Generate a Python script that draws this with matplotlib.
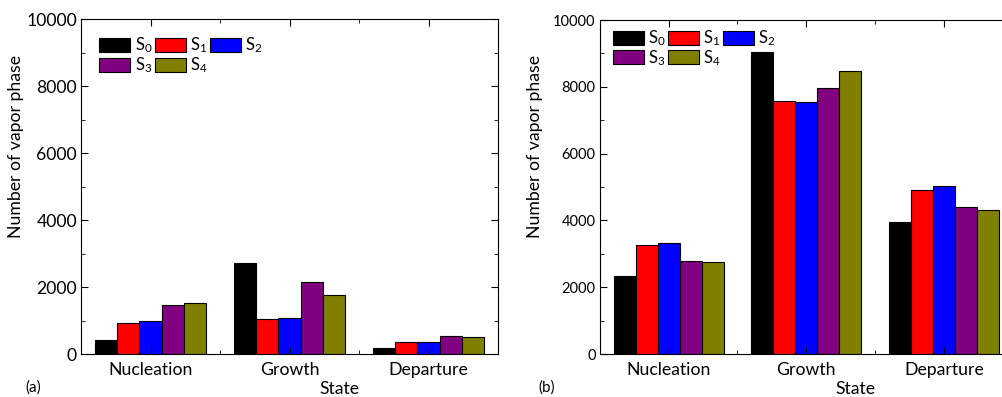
import numpy as np
import matplotlib
matplotlib.use('Agg')
from matplotlib import pyplot as plt
from matplotlib.ticker import MultipleLocator

plt.rcParams['font.family'] = ['Lato', 'DejaVu Sans']
plt.rcParams['mathtext.fontset'] = 'custom'
plt.rcParams['mathtext.rm'] = 'Lato'
plt.rcParams['mathtext.it'] = 'Lato'

# data
states = ['Nucleation', 'Growth', 'Departure']
series = ['S$_0$', 'S$_1$', 'S$_2$', 'S$_3$', 'S$_4$']
colors = ['#000000', '#ff0000', '#0000ff', '#800080', '#808000']

# panel (a)
a_s0 = [430, 2720, 180]
a_s1 = [925, 1045, 345]
a_s2 = [975, 1075, 360]
a_s3 = [1450, 2150, 525]
a_s4 = [1520, 1750, 495]

# panel (b)
b_s0 = [2350, 9050, 3950]
b_s1 = [3260, 7565, 4905]
b_s2 = [3330, 7535, 5025]
b_s3 = [2780, 7965, 4395]
b_s4 = [2740, 8475, 4305]

fig = plt.figure(figsize=(10.03, 3.97), dpi=100)
ax_a = fig.add_axes([0.0808, 0.1083, 0.4158, 0.8438])
ax_b = fig.add_axes([0.598, 0.1083, 0.4118, 0.8413])


def draw(ax, data, tick_size, leg_xy):
    x = np.arange(1, len(states) + 1)
    w = 0.16
    handles = []
    for i, vals in enumerate(data):
        h = ax.bar(x + (i - 2) * w, vals, w, color=colors[i],
                   edgecolor='black', linewidth=0.8, label=series[i])
        handles.append(h)
    ax.set_xlim(0.5, 3.5)
    ax.set_ylim(0, 10000)
    ax.set_xticks(x)
    ax.set_xticklabels(states, fontsize=12.7)
    ax.xaxis.set_minor_locator(MultipleLocator(0.5))
    ax.yaxis.set_major_locator(MultipleLocator(2000))
    ax.yaxis.set_minor_locator(MultipleLocator(1000))
    ax.tick_params(which='both', direction='in', top=True, right=True)
    ax.tick_params(axis='y', labelsize=tick_size, pad=3)
    ax.tick_params(axis='x', pad=6)
    ax.tick_params(which='major', length=5)
    ax.tick_params(which='minor', length=3)
    ax.set_ylabel('Number of vapor phase', fontsize=12.7)
    ax.yaxis.set_label_coords(-0.137, 0.62)
    ax.set_xlabel('State', fontsize=12.7)
    ax.xaxis.set_label_coords(0.62, -0.08)
    # row-wise order S0 S1 S2 / S3 S4
    order = [0, 3, 1, 4, 2]
    ax.legend([handles[k] for k in order], [series[k] for k in order],
              ncol=3, frameon=False, fontsize=12, loc='upper left',
              bbox_to_anchor=leg_xy, handlelength=1.86, handleheight=0.9,
              handletextpad=0.25, columnspacing=0.15, labelspacing=0.0,
              borderaxespad=0)


draw(ax_a, [a_s0, a_s1, a_s2, a_s3, a_s4], 12.7, (0.028, 0.97))
draw(ax_b, [b_s0, b_s1, b_s2, b_s3, b_s4], 10.5, (0.015, 0.995))

fig.text(33 / 1003, 1 - 388 / 397, '(a)', fontsize=11, ha='center', va='center')
fig.text(547 / 1003, 1 - 388 / 397, '(b)', fontsize=11, ha='center', va='center')

plt.savefig('out.png', dpi=100)
